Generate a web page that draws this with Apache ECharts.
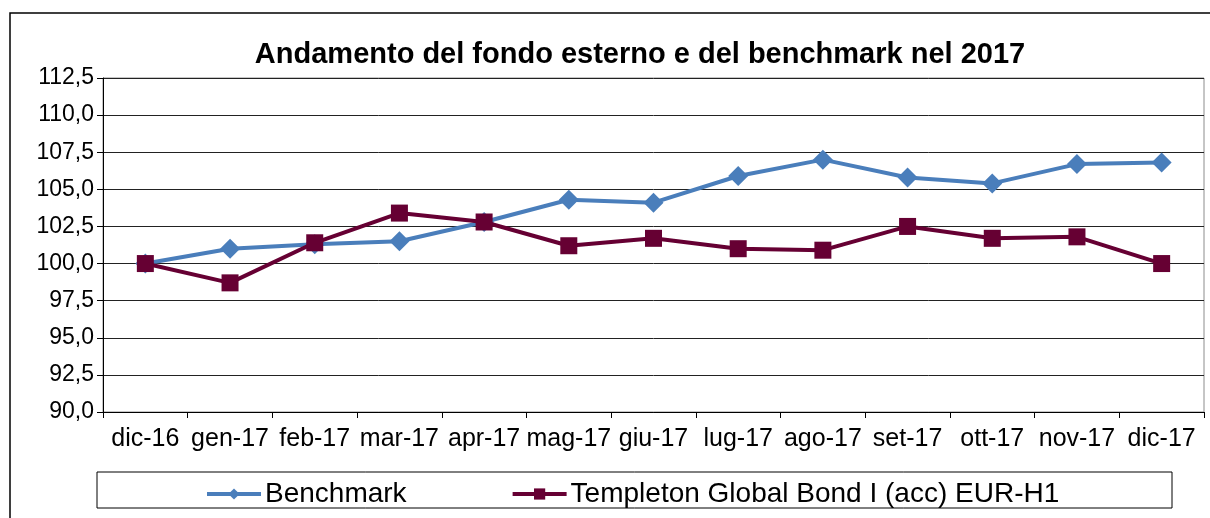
<!DOCTYPE html>
<html>
<head>
<meta charset="utf-8">
<script src="https://cdn.jsdelivr.net/npm/echarts@6/dist/echarts.min.js"></script>
<style>
html, body { margin: 0; padding: 0; background: #fff; }
#chart { width: 1210px; height: 518px; }
</style>
</head>
<body>
<div id="chart"></div>
<script>
// dati
var mesi = ['dic-16','gen-17','feb-17','mar-17','apr-17','mag-17','giu-17','lug-17','ago-17','set-17','ott-17','nov-17','dic-17'];
var benchmark = [100.0, 101.0, 101.3, 101.5, 102.8, 104.3, 104.1, 105.9, 107.0, 105.8, 105.4, 106.7, 106.8];
var templeton = [100.0, 98.7, 101.4, 103.4, 102.8, 101.2, 101.7, 101.0, 100.9, 102.5, 101.7, 101.8, 100.0];
var yMin = 90, yMax = 112.5, yStep = 2.5;

window.onload = function () {
    var chart = echarts.init(document.getElementById('chart'));
    var font = 'Arial, "Liberation Sans", sans-serif';

    var option = {
        animation: false,
        backgroundColor: '#fff',
        title: {
            text: 'Andamento del fondo esterno e del benchmark nel 2017',
            left: 635,
            textAlign: 'center',
            top: 35,
            textStyle: { fontFamily: font, fontSize: 29, fontWeight: 'bold', color: '#000' }
        },
        graphic: [
            {
                type: 'rect', silent: true,
                shape: { x: 10, y: 13, width: 1220, height: 540 },
                style: { fill: 'none', stroke: '#000', lineWidth: 1.5 }
            },
            {
                type: 'rect', silent: true,
                shape: { x: 97, y: 472, width: 1075, height: 36 },
                style: { fill: 'none', stroke: '#000', lineWidth: 1 }
            }
        ],
        legend: {
            left: 200,
            top: 475,
            itemWidth: 54,
            itemHeight: 14,
            itemGap: 104,
            lineStyle: { width: 4 },
            textStyle: { fontFamily: font, fontSize: 28, color: '#000', padding: [0, 0, 0, -1] },
            data: ['Benchmark', 'Templeton Global Bond I (acc) EUR-H1']
        },
        grid: {
            left: 103,
            right: 6,
            top: 78,
            bottom: 106,
            show: true,
            borderColor: '#8c8c8c',
            borderWidth: 1
        },
        xAxis: {
            type: 'category',
            data: mesi,
            boundaryGap: true,
            axisLine: { lineStyle: { color: '#000', width: 1 } },
            axisTick: { show: true, length: 6, inside: false, lineStyle: { color: '#000' } },
            axisLabel: { interval: 0, fontFamily: font, fontSize: 25, color: '#000', margin: 15 }
        },
        yAxis: {
            type: 'value',
            min: yMin,
            max: yMax,
            interval: yStep,
            axisLine: { show: true, lineStyle: { color: '#000', width: 1 } },
            axisTick: { show: true, length: 6, lineStyle: { color: '#000' } },
            splitLine: { lineStyle: { color: '#222', width: 1 } },
            axisLabel: {
                fontFamily: font, fontSize: 23, color: '#000', margin: 9,
                formatter: function (v) { return v.toFixed(1).replace('.', ','); }
            }
        },
        series: [
            {
                name: 'Benchmark',
                type: 'line',
                data: benchmark,
                symbol: 'diamond',
                symbolSize: 20,
                lineStyle: { color: '#4a7ebb', width: 4 },
                itemStyle: { color: '#4a7ebb' },
                z: 2
            },
            {
                name: 'Templeton Global Bond I (acc) EUR-H1',
                type: 'line',
                data: templeton,
                symbol: 'rect',
                symbolSize: 17,
                lineStyle: { color: '#660033', width: 4 },
                itemStyle: { color: '#660033' },
                z: 3
            }
        ]
    };

    chart.setOption(option);
};
</script>
</body>
</html>
